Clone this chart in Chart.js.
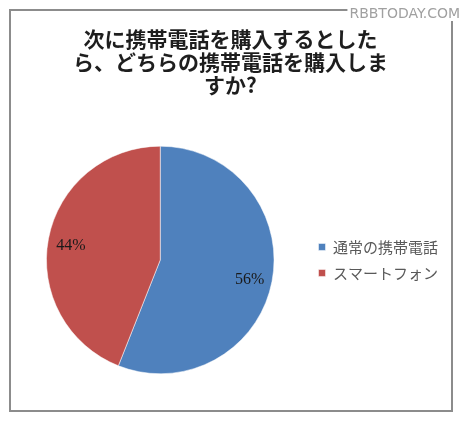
<!DOCTYPE html>
<html>
<head>
<meta charset="utf-8">
<script src="https://cdn.jsdelivr.net/npm/chart.js@4/dist/chart.umd.min.js"></script>
<style>
  html, body { margin: 0; padding: 0; background: #fff; }
  canvas { display: block; }
</style>
</head>
<body>
<canvas id="chart" width="467" height="422"></canvas>
<script>
const titleLines = ['次に携帯電話を購入するとした', 'ら、どちらの携帯電話を購入しま', 'すか?'];
const categories = ['通常の携帯電話', 'スマートフォン'];
const shares = [56, 44];
const sliceColors = ['#4F81BD', '#C0504D'];
const watermark = 'RBBTODAY.COM';

// white page, grey frame round the chart
const framePlugin = {
  id: 'frame',
  beforeDraw(chart) {
    const ctx = chart.ctx;
    ctx.save();
    ctx.fillStyle = '#fff';
    ctx.fillRect(0, 0, chart.width, chart.height);
    ctx.strokeStyle = '#8c8c8c';
    ctx.lineWidth = 2;
    ctx.strokeRect(10, 10, 442, 401);
    ctx.restore();
  },
  afterDraw(chart) {
    const ctx = chart.ctx;
    ctx.save();
    ctx.font = '14px "DejaVu Sans", sans-serif';
    const w = ctx.measureText(watermark).width;
    ctx.fillStyle = '#fff';
    ctx.fillRect(460 - w - 2, 5, w + 4, 16);
    ctx.fillStyle = '#a0a0a0';
    ctx.textAlign = 'right';
    ctx.textBaseline = 'middle';
    ctx.fillText(watermark, 460, 14);
    ctx.restore();
  }
};

// percentage labels inside the slices
const sliceLabels = {
  id: 'sliceLabels',
  afterDatasetsDraw(chart) {
    const ctx = chart.ctx;
    const meta = chart.getDatasetMeta(0);
    ctx.save();
    ctx.font = '16px "Liberation Serif", serif';
    ctx.fillStyle = '#1a1a1a';
    ctx.textAlign = 'center';
    ctx.textBaseline = 'middle';
    meta.data.forEach((arc, i) => {
      const p = arc.getProps(['x', 'y', 'startAngle', 'endAngle', 'outerRadius'], true);
      const mid = (p.startAngle + p.endAngle) / 2;
      const r = p.outerRadius * 0.8;
      ctx.fillText(shares[i] + '%', p.x + Math.cos(mid) * r, p.y + Math.sin(mid) * r + 3);
    });
    ctx.restore();
  }
};

new Chart(document.getElementById('chart'), {
  type: 'pie',
  data: {
    labels: categories,
    datasets: [{
      data: shares,
      backgroundColor: sliceColors,
      borderColor: '#ffffff',
      borderWidth: 0.5
    }]
  },
  options: {
    responsive: false,
    animation: false,
    devicePixelRatio: 1,
    layout: { padding: { left: 13, right: 19, top: 13, bottom: 48 } },
    plugins: {
      title: {
        display: true,
        text: titleLines,
        color: '#1e1e1e',
        font: { family: '"Noto Sans CJK JP", sans-serif', size: 21, weight: 'bold', lineHeight: 1.11 },
        padding: { top: 14, bottom: 49 }
      },
      legend: {
        position: 'right',
        fullSize: false,
        labels: {
          boxWidth: 7,
          boxHeight: 7,
          padding: 11,
          color: '#595959',
          font: { family: '"Noto Sans CJK JP", sans-serif', size: 15 }
        }
      },
      tooltip: { enabled: false }
    }
  },
  plugins: [framePlugin, sliceLabels]
});
</script>
</body>
</html>
